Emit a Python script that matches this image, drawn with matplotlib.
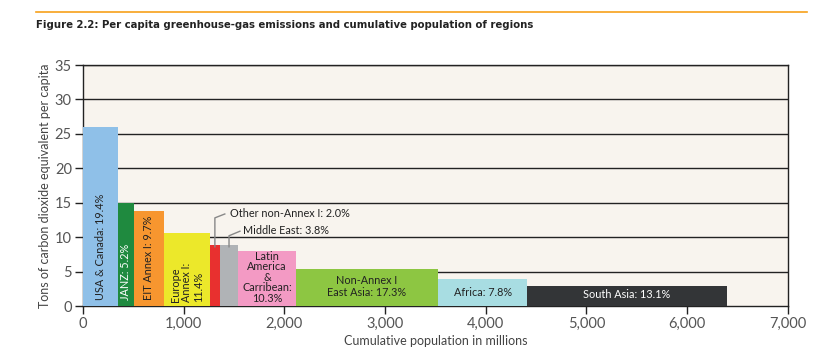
import matplotlib
matplotlib.use("Agg")
import matplotlib.pyplot as plt
from matplotlib import font_manager
import numpy as np

plt.rcParams['font.family'] = ['Lato', 'DejaVu Sans']

regions = ["USA & Canada", "JANZ", "EIT Annex I", "Europe Annex I", "Other non-Annex I",
           "Middle East", "Latin America & Carribean", "Non-Annex I East Asia", "Africa", "South Asia"]
population = [345, 159, 298, 457, 102, 179, 573, 1411, 890, 1981]   # millions
emissions = [26.0, 15.0, 13.8, 10.6, 8.9, 8.9, 8.0, 5.4, 3.9, 2.9]    # t CO2e per capita
shares = ["19.4%", "5.2%", "9.7%", "11.4%", "2.0%", "3.8%", "10.3%", "17.3%", "7.8%", "13.1%"]
colors = ["#8fc0e8", "#1f8a3f", "#f7962f", "#ece82a", "#e8302f",
          "#b0b3b6", "#f39ac4", "#8dc642", "#a8dde2", "#333537"]

x_ticks = [0, 1000, 2000, 3000, 4000, 5000, 6000, 7000]
x_ticklabels = ["0", "1,000", "2,000", "3,000", "4,000", "5,000", "6,000", "7,000"]
y_ticks = [0, 5, 10, 15, 20, 25, 30, 35]

fig = plt.figure(figsize=(8.4, 3.64), dpi=100)
ax = fig.add_axes([83/840, 58/364, (787.7-83)/840, (306-65)/364])
ax.set_facecolor("#f8f4ee")

lefts = np.concatenate([[0], np.cumsum(population)[:-1]])
ax.bar(lefts, emissions, width=population, align="edge", color=colors,
       edgecolor="none", zorder=3)

for y in y_ticks[1:]:
    ax.axhline(y, color="#222222", lw=1.0, zorder=1)

ax.set_xlim(0, 7000)
ax.set_ylim(0, 35)
ax.set_xticks(x_ticks)
ax.set_xticklabels(x_ticklabels)
ax.set_yticks(y_ticks)
for s in ax.spines.values():
    s.set_color("#222222")
    s.set_linewidth(1.0)
ax.tick_params(axis="both", colors="#222222", labelcolor="#555555", labelsize=10.5,
               length=6, width=1.0, pad=2)
ax.set_xlabel("Cumulative population in millions", fontsize=9, color="#444444", labelpad=3)
ax.set_ylabel("Tons of carbon dioxide equivalent per capita", fontsize=9, color="#444444", labelpad=3)

centers = lefts + np.array(population) / 2
lab_kw = dict(fontsize=7.8, zorder=5)
# vertical labels
ax.text(centers[0], 0.8, f"USA & Canada: {shares[0]}", rotation=90, ha="center", va="bottom",
        color="#222222", **lab_kw)
ax.text(centers[1], 0.8, f"JANZ: {shares[1]}", rotation=90, ha="center", va="bottom",
        color="white", **lab_kw)
ax.text(centers[2], 0.8, f"EIT Annex I: {shares[2]}", rotation=90, ha="center", va="bottom",
        color="#222222", **lab_kw)
ax.text(centers[3], 0.6, f"Europe\nAnnex I:\n{shares[3]}", rotation=90, ha="center", va="bottom",
        multialignment="left", color="#222222", linespacing=1.05, **lab_kw)
ax.text(centers[6], 0.3, f"Latin\nAmerica\n&\nCarribean:\n{shares[6]}", ha="center", va="bottom",
        color="#222222", linespacing=0.95, **lab_kw)
ax.text(centers[7], 2.8, f"Non-Annex I\nEast Asia: {shares[7]}", ha="center", va="center",
        color="#222222", linespacing=1.15, **lab_kw)
ax.text(centers[8], 1.9, f"Africa: {shares[8]}", ha="center", va="center",
        color="#222222", **lab_kw)
ax.text(centers[9], 1.6, f"South Asia: {shares[9]}", ha="center", va="center",
        color="white", **lab_kw)

# leader annotations
ax.plot([centers[4], centers[4], centers[4] + 105], [8.5, 12.8, 13.4],
        color="#888888", lw=1.0, zorder=4, solid_capstyle="butt")
ax.text(centers[4] + 150, 13.4, f"Other non-Annex I: {shares[4]}", ha="left", va="center",
        color="#222222", **lab_kw)
ax.plot([centers[5], centers[5], centers[5] + 115], [8.5, 10.2, 10.9],
        color="#888888", lw=1.0, zorder=4, solid_capstyle="butt")
ax.text(centers[5] + 135, 10.9, f"Middle East: {shares[5]}", ha="left", va="center",
        color="#222222", **lab_kw)

# header
fig.add_artist(plt.Line2D([36/840, 806.5/840], [1 - 12.3/364, 1 - 12.3/364],
                          color="#f7a11a", lw=1.2))
title_font = font_manager.FontProperties(family="DejaVu Sans", stretch="condensed",
                                         weight="bold", size=8.1)
fig.text(36/840, 1 - 25.5/364,
         "Figure 2.2: Per capita greenhouse-gas emissions and cumulative population of regions",
         fontproperties=title_font, ha="left", va="center", color="#222222")

fig.savefig("out.png", dpi=100, facecolor="white")
